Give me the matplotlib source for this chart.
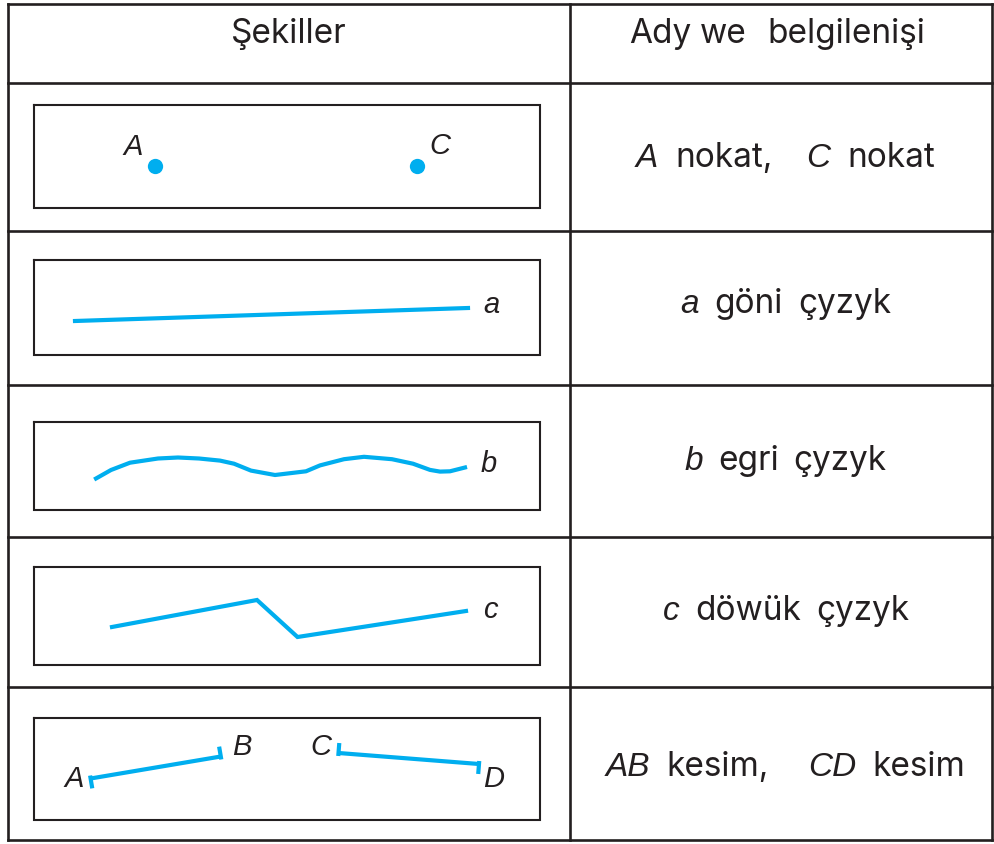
import numpy as np
import matplotlib
matplotlib.use("Agg")
from matplotlib import pyplot as plt

BLUE = "#00aeef"
INK = "#231f20"

# table frame (pixel coords, y down)
col_x = [8, 570, 992]
row_y = [4, 83, 231, 385, 537, 687, 840]

# inner boxes: x0, x1 shared, y pairs per row
box_x = [34, 540]
box_y = [(105, 208), (260, 355), (422, 510), (567, 665), (718, 820)]

# row 1: points
pt_x = [155, 417]
pt_y = [166, 166]
pt_names = ["A", "C"]
pt_lab_x = [133, 440]
pt_lab_y = [155, 154]

# row 2: straight line a
line_x = [75, 468]
line_y = [321, 308]

# row 3: curve b
curve_x = [96, 111, 130, 158, 178, 199, 220, 234, 251, 275, 306, 320, 344, 364,
           392, 413, 430, 440, 450, 465]
curve_y = [478.5, 470, 462.7, 458.5, 457.5, 458.5, 460.6, 463.7, 470.6, 475, 471.3,
           465.4, 459.2, 456.8, 459.2, 463.7, 469.9, 471.6, 471.3, 467.5]

# row 4: broken line c
broken_x = [112, 257, 297.5, 466]
broken_y = [627, 600, 637, 611]

# row 5: segments AB and CD
seg_ab_x = [90.6, 220.8]
seg_ab_y = [778.5, 756.5]
seg_cd_x = [338.5, 479]
seg_cd_y = [753, 764]
seg_names = ["A", "B", "C", "D"]
seg_lab_x = [74, 241.6, 320.8, 494]
seg_lab_y = [787, 755, 755, 787]

# curve name labels
name_labels = ["a", "b", "c"]
name_x = [491, 489, 490]
name_y = [313, 472, 618]

# header and right-column texts: (word, italic, centre x)
header_left = ("Şekiller", 289)
header_right = [("Ady", 660), ("we", 723), ("belgilenişi", 846)]
header_base = 43
right_rows = [
    [("A", True, 646.5), ("nokat,", False, 724), ("C", True, 818.5), ("nokat", False, 891)],
    [("a", True, 689.5), ("göni", False, 748.5), ("çyzyk", False, 845)],
    [("b", True, 694), ("egri", False, 748.5), ("çyzyk", False, 839.5)],
    [("c", True, 671.5), ("döwük", False, 748.5), ("çyzyk", False, 862.5)],
    [("AB", True, 627.5), ("kesim,", False, 718), ("CD", True, 832.5), ("kesim", False, 919)],
]
right_base = [167, 313, 470, 620, 776]

WORD_FONT = ["Inter", "Liberation Sans", "DejaVu Sans"]
ITAL_FONT = ["Liberation Sans", "DejaVu Sans"]
plt.rcParams["font.family"] = ITAL_FONT

fig = plt.figure(figsize=(9.95, 8.44), dpi=100)
ax = fig.add_axes([0, 0, 1, 1])
ax.set_xlim(0, 995)
ax.set_ylim(844, 0)
ax.axis("off")

# table grid
for x in col_x:
    ax.plot([x, x], [row_y[0], row_y[-1]], color=INK, lw=1.9, solid_capstyle="projecting")
for y in row_y:
    ax.plot([col_x[0], col_x[-1]], [y, y], color=INK, lw=1.9, solid_capstyle="projecting")

# inner boxes
for y0, y1 in box_y:
    ax.plot([box_x[0], box_x[1], box_x[1], box_x[0], box_x[0]], [y0, y0, y1, y1, y0],
            color=INK, lw=1.5, solid_joinstyle="miter")

# row 1
ax.plot(pt_x, pt_y, "o", color=BLUE, ms=11, mec="none")
for n, x, y in zip(pt_names, pt_lab_x, pt_lab_y):
    ax.text(x, y, n, fontsize=21, style="italic", family=ITAL_FONT, color=INK,
            ha="center", va="baseline")

# rows 2-4
ax.plot(line_x, line_y, color=BLUE, lw=3)
ax.plot(curve_x, curve_y, color=BLUE, lw=3, solid_joinstyle="round")
ax.plot(broken_x, broken_y, color=BLUE, lw=3, solid_joinstyle="miter")
for n, x, y in zip(name_labels, name_x, name_y):
    ax.text(x, y, n, fontsize=21, style="italic", family=ITAL_FONT, color=INK,
            ha="center", va="baseline")


# row 5 segments with end ticks
def cap(p, n, down):
    if down:
        a, b = p - 3 * n, p + 10 * n
    else:
        a, b = p - 10 * n, p + 3 * n
    ax.plot([a[0], b[0]], [a[1], b[1]], color=BLUE, lw=3, solid_capstyle="butt")


for sx, sy, caps in [(seg_ab_x, seg_ab_y, [True, False]), (seg_cd_x, seg_cd_y, [False, True])]:
    ax.plot(sx, sy, color=BLUE, lw=3, solid_capstyle="butt")
    p0 = np.array([sx[0], sy[0]])
    p1 = np.array([sx[1], sy[1]])
    d = (p1 - p0) / np.linalg.norm(p1 - p0)
    nrm = np.array([-d[1], d[0]])
    if nrm[1] < 0:
        nrm = -nrm
    cap(p0, nrm, caps[0])
    cap(p1, nrm, caps[1])
for n, x, y in zip(seg_names, seg_lab_x, seg_lab_y):
    ax.text(x, y, n, fontsize=21, style="italic", family=ITAL_FONT, color=INK,
            ha="center", va="baseline")

# header
ax.text(header_left[1], header_base, header_left[0], fontsize=24, family=WORD_FONT,
        color=INK, ha="center", va="baseline")
for w, x in header_right:
    ax.text(x, header_base, w, fontsize=24, family=WORD_FONT, color=INK,
            ha="center", va="baseline")

# right column
for words, yb in zip(right_rows, right_base):
    for w, it, x in words:
        if it:
            ax.text(x, yb, w, fontsize=24, style="italic", family=ITAL_FONT, color=INK,
                    ha="center", va="baseline")
        else:
            ax.text(x, yb, w, fontsize=24, family=WORD_FONT, color=INK,
                    ha="center", va="baseline")

fig.savefig("out.png", dpi=100, facecolor="white")
